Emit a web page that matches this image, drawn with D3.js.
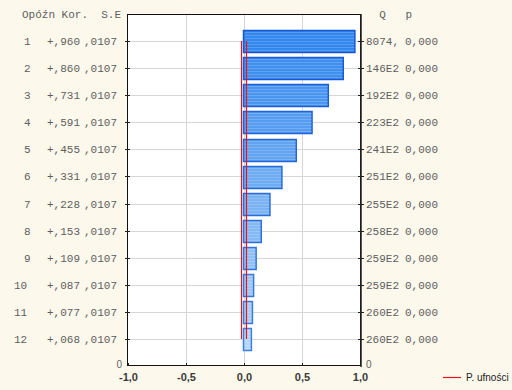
<!DOCTYPE html>
<html>
<head>
<meta charset="utf-8">
<script src="https://cdn.jsdelivr.net/npm/d3@7"></script>
<style>
  body { margin: 0; background: #fdf8ec; }
  svg { display: block; }
</style>
</head>
<body>
<div id="chart"></div>
<script>
// Data
const lags = [1, 2, 3, 4, 5, 6, 7, 8, 9, 10, 11, 12];
const corr = [0.960, 0.860, 0.731, 0.591, 0.455, 0.331, 0.228, 0.153, 0.109, 0.087, 0.077, 0.068];
const corrLabels = ["+,960", "+,860", "+,731", "+,591", "+,455", "+,331", "+,228", "+,153", "+,109", "+,087", "+,077", "+,068"];
const seLabels = [",0107", ",0107", ",0107", ",0107", ",0107", ",0107", ",0107", ",0107", ",0107", ",0107", ",0107", ",0107"];
const qLabels = ["8074,", "146E2", "192E2", "223E2", "241E2", "251E2", "255E2", "258E2", "259E2", "259E2", "260E2", "260E2"];
const pLabels = ["0,000", "0,000", "0,000", "0,000", "0,000", "0,000", "0,000", "0,000", "0,000", "0,000", "0,000", "0,000"];
const se = 0.0107;
const xTicks = [-1, -0.5, 0, 0.5, 1];

const width = 512, height = 390;
const plot = { left: 127, right: 361, top: 14, bottom: 366 };

const svg = d3.select("#chart").append("svg")
  .attr("width", width)
  .attr("height", height);

// Scales (lag 1 at the top, the bottom edge is labelled 0)
const xScale = d3.scaleLinear().domain([-1, 1]).range([plot.left + 1, plot.right - 1]);
const yScale = d3.scaleLinear().domain([0, 13]).range([plot.top, plot.bottom]);
const barColor = d3.scaleLinear().domain([1, 12]).range(["#3388ee", "#b3d6f8"]);
const barStroke = d3.scaleLinear().domain([1, 12]).range(["#1456d4", "#3c7fe0"]);
const bandH = (yScale(1) - yScale(0)) * 0.8;

// plot background
svg.append("rect")
  .attr("x", plot.left).attr("y", plot.top)
  .attr("width", plot.right - plot.left).attr("height", plot.bottom - plot.top)
  .attr("fill", "#ffffff");

// grid
svg.append("g").selectAll("line").data(lags).join("line")
  .attr("x1", plot.left).attr("x2", plot.right)
  .attr("y1", d => Math.round(yScale(d)) + 0.5).attr("y2", d => Math.round(yScale(d)) + 0.5)
  .attr("stroke", "#d6d6d6");
svg.append("g").selectAll("line").data([-0.5, 0, 0.5]).join("line")
  .attr("x1", d => Math.round(xScale(d)) + 0.5).attr("x2", d => Math.round(xScale(d)) + 0.5)
  .attr("y1", plot.top).attr("y2", plot.bottom)
  .attr("stroke", "#d6d6d6");

// bars
svg.append("g").selectAll("rect").data(lags).join("rect")
  .attr("x", xScale(0) - 0.5)
  .attr("y", (d) => Math.round(yScale(d) - bandH / 2) + 0.5)
  .attr("width", (d, i) => xScale(corr[i]) - xScale(0))
  .attr("height", Math.round(bandH))
  .attr("fill", d => barColor(d))
  .attr("stroke", d => barStroke(d))
  .attr("stroke-width", 1.5);

// stripes inside bars
const stripes = svg.append("g").attr("opacity", 0.18);
lags.forEach((lag, i) => {
  const y0 = Math.round(yScale(lag) - bandH / 2) + 2;
  for (let k = 0; k < Math.round(bandH) - 3; k += 3) {
    stripes.append("line")
      .attr("x1", xScale(0) + 1).attr("x2", xScale(corr[i]) - 1)
      .attr("y1", y0 + k + 0.5).attr("y2", y0 + k + 0.5)
      .attr("stroke", "#ffffff");
  }
});

// confidence limits
[-2 * se, 2 * se].forEach(v => {
  svg.append("line")
    .attr("x1", xScale(v)).attr("x2", xScale(v))
    .attr("y1", yScale(1)).attr("y2", yScale(12))
    .attr("stroke", "#e8141c").attr("stroke-width", 1.2);
});

// frame
svg.append("rect")
  .attr("x", plot.left + 0.5).attr("y", plot.top + 0.5)
  .attr("width", plot.right - plot.left - 1).attr("height", plot.bottom - plot.top - 1)
  .attr("fill", "none").attr("stroke", "#111");
svg.append("line")
  .attr("x1", plot.right).attr("x2", plot.right)
  .attr("y1", plot.top).attr("y2", plot.bottom + 1)
  .attr("stroke", "#222").attr("stroke-width", 1.5);

// lag ticks on both sides
svg.append("g").selectAll("line").data(lags).join("line")
  .attr("x1", plot.left - 2).attr("x2", plot.left + 3)
  .attr("y1", d => Math.round(yScale(d)) + 0.5).attr("y2", d => Math.round(yScale(d)) + 0.5)
  .attr("stroke", "#222");
svg.append("g").selectAll("line").data(lags).join("line")
  .attr("x1", plot.right - 3).attr("x2", plot.right + 3)
  .attr("y1", d => Math.round(yScale(d)) + 0.5).attr("y2", d => Math.round(yScale(d)) + 0.5)
  .attr("stroke", "#222");

// x axis
const xAxis = d3.axisBottom(xScale)
  .tickValues(xTicks)
  .tickSize(3)
  .tickFormat(d => d3.format(".1f")(d).replace(".", ",").replace("−", "-"));
const gx = svg.append("g")
  .attr("transform", `translate(0, ${plot.bottom})`)
  .call(xAxis);
gx.select(".domain").remove();
gx.selectAll(".tick line").attr("stroke", "#222").attr("transform", "translate(0,-3)");
gx.selectAll(".tick text")
  .attr("y", 7)
  .attr("font-family", "Liberation Sans, Arial, sans-serif")
  .attr("font-size", 11)
  .attr("font-weight", "bold")
  .attr("fill", "#3a3a3a");

// y "0" labels
const sans = "Liberation Sans, Arial, sans-serif";
svg.append("text").attr("x", plot.left - 5).attr("y", plot.bottom + 2)
  .attr("text-anchor", "end").attr("font-family", sans).attr("font-size", 10)
  .attr("fill", "#666").text("0");
svg.append("text").attr("x", plot.right + 5).attr("y", plot.bottom + 2)
  .attr("font-family", sans).attr("font-size", 10)
  .attr("fill", "#666").text("0");

// table columns
const mono = "Liberation Mono, Courier New, monospace";
const txt = (x, y, s, anchor) => svg.append("text")
  .attr("x", x).attr("y", y)
  .attr("text-anchor", anchor || "start")
  .attr("font-family", mono).attr("font-size", 11)
  .attr("fill", "#5e5e5e")
  .attr("xml:space", "preserve")
  .text(s);

txt(22, 18, "Opóźn Kor.  S.E");
txt(366, 18, "  Q   p");
lags.forEach((lag, i) => {
  const y = yScale(lag) + 4;
  txt(lag < 10 ? 24 : 14, y, String(lag));
  txt(47, y, corrLabels[i]);
  txt(84, y, seLabels[i]);
  txt(366, y, qLabels[i]);
  txt(405, y, pLabels[i]);
});

// legend
svg.append("line")
  .attr("x1", 443).attr("x2", 461).attr("y1", 377.5).attr("y2", 377.5)
  .attr("stroke", "#e8141c").attr("stroke-width", 1.2);
svg.append("text").attr("x", 466).attr("y", 381)
  .attr("font-family", sans).attr("font-size", 10)
  .attr("fill", "#222").text("P. ufności");
</script>
</body>
</html>
